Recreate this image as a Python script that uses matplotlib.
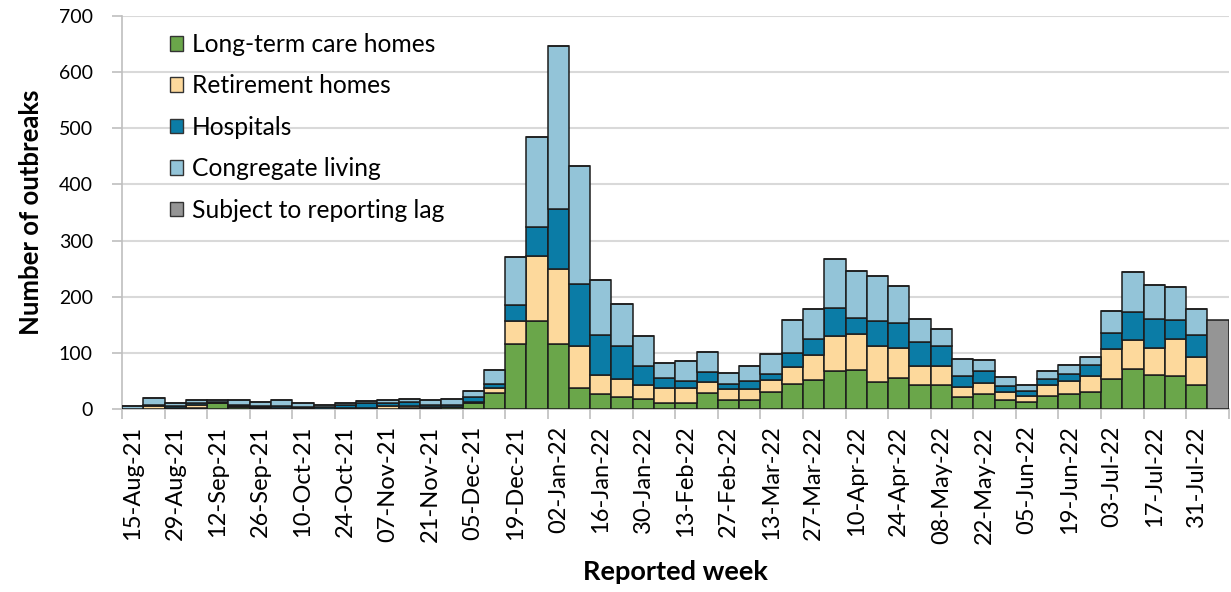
import numpy as np
import pandas as pd
import matplotlib
matplotlib.use("Agg")
import matplotlib.pyplot as plt
from matplotlib.patches import Patch

plt.rcParams['font.family'] = ['Lato', 'DejaVu Sans']

# weekly categories, 15-Aug-21 .. 07-Aug-22
weeks = pd.date_range('2021-08-15', periods=52, freq='7D')
week_labels = [d.strftime('%d-%b-%y') for d in weeks]

ltc_homes = [0, 1, 1, 2, 10, 3, 2, 1, 1, 1, 1, 1, 1, 2, 2, 3, 10, 28,
             115, 157, 115, 38, 26, 22, 18, 11, 11, 28, 17, 17, 31, 45, 52,
             68, 70, 49, 56, 43, 43, 22, 27, 17, 13, 23, 27, 30, 54, 72, 61,
             59, 43, 0]
retirement = [0, 5, 1, 6, 0, 2, 1, 1, 1, 0, 1, 1, 4, 4, 2, 1, 3, 9,
              42, 116, 134, 75, 35, 31, 25, 26, 26, 20, 18, 19, 21, 30, 45,
              63, 64, 64, 53, 34, 34, 18, 20, 13, 10, 20, 23, 29, 53, 51, 48,
              66, 49, 0]
hospitals = [1, 2, 3, 3, 3, 3, 2, 4, 1, 2, 6, 8, 6, 7, 3, 3, 8, 7,
             28, 51, 107, 110, 71, 60, 34, 18, 13, 18, 9, 14, 10, 25, 27,
             49, 29, 43, 45, 43, 35, 19, 21, 11, 10, 11, 13, 19, 28, 50, 52,
             33, 40, 0]
congregate = [5, 12, 6, 6, 4, 8, 8, 10, 8, 4, 3, 4, 6, 5, 10, 11, 12, 26,
              85, 161, 291, 209, 98, 74, 53, 27, 35, 35, 21, 27, 36, 58, 54,
              87, 83, 81, 65, 40, 31, 30, 19, 16, 10, 14, 16, 15, 39, 71, 60,
              59, 46, 0]
reporting_lag = [0] * 51 + [159]

series = [
    ("Long-term care homes", ltc_homes, '#6aa64a'),
    ("Retirement homes", retirement, '#fdd99c'),
    ("Hospitals", hospitals, '#0b7ca6'),
    ("Congregate living", congregate, '#93c4d8'),
    ("Subject to reporting lag", reporting_lag, '#959595'),
]

fig = plt.figure(figsize=(12.31, 5.92), dpi=100)
ax = fig.add_axes([0.0991, 0.309, 0.899, 0.664])

x = np.arange(len(weeks))
bottom = np.zeros(len(weeks))
handles = []
for name, vals, color in series:
    vals = np.array(vals, dtype=float)
    ax.bar(x, vals, width=1.0, bottom=bottom, color=color,
           edgecolor='#1c1c1c', linewidth=1.1, zorder=3)
    bottom += vals
    handles.append(Patch(facecolor=color, edgecolor='#333333', linewidth=1.0, label=name))

ax.set_xlim(-0.5, len(weeks) - 0.5)
ax.set_ylim(0, 700)
ax.set_yticks(range(0, 701, 100))
ax.yaxis.grid(True, color='#d9d9d9', linewidth=1.5, zorder=0)
ax.set_axisbelow(True)

ax.set_xticks(x[::2])
ax.set_xticklabels(week_labels[::2], rotation=90, fontsize=17)
ax.tick_params(axis='x', length=0, pad=12)
ax.set_xticks(np.arange(-0.5, len(weeks), 2), minor=True)
ax.tick_params(axis='x', which='minor', length=7, color='#bfbfbf', width=1.2)
ax.tick_params(axis='y', labelsize=14, length=7, color='#bfbfbf', width=1.2, pad=14)

for side in ['top', 'right']:
    ax.spines[side].set_visible(False)
ax.spines['left'].set_color('#bfbfbf')
ax.spines['left'].set_linewidth(1.2)
ax.spines['bottom'].set_color('#bfbfbf')
ax.spines['bottom'].set_linewidth(1.2)

ax.set_ylabel("Number of outbreaks", fontsize=18.5, fontweight='bold', labelpad=11)
ax.set_xlabel("Reported week", fontsize=19.5, fontweight='bold', labelpad=12)

ax.legend(handles=handles, loc='upper left', bbox_to_anchor=(0.043, 0.957),
          frameon=False, fontsize=17.7, handlelength=0.55, handleheight=0.55,
          handletextpad=0.37, labelspacing=0.75, borderpad=0, borderaxespad=0)

fig.savefig('out.png', dpi=100)
